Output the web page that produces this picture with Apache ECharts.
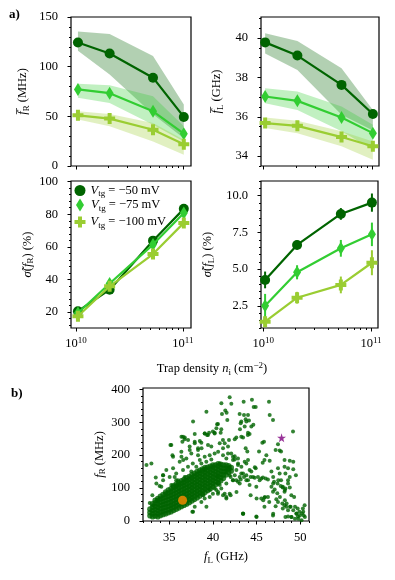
<!DOCTYPE html>
<html>
<head>
<meta charset="utf-8">
<script src="https://cdn.jsdelivr.net/npm/echarts@6/dist/echarts.min.js"></script>
<style>
  html, body { margin: 0; padding: 0; background: #fff; }
  #chart { width: 395px; height: 580px; }
</style>
</head>
<body>
<div id="chart"></div>
<script>
// ---- data ----
const trapDensity = [1.04e10, 2.06e10, 5.25e10, 1.02e11];
const vtgLabels = ["\u221250", "\u221275", "\u2212100"];
const colors = ["#006400", "#32cd32", "#9acd32"];

// mean f_R (MHz) and shaded band
const fRMean = [[124.4, 113.3, 88.9, 49.4], [77.1, 73.3, 55.1, 32.5], [51.0, 47.7, 36.5, 22.0]];
const fRLow = [[116, 92, 52, 28], [68.6, 63.5, 41.6, 24.7], [46.7, 39.9, 24.7, 11.2]];
const fRHigh = [[135.5, 132.8, 110.8, 62], [82.8, 81.4, 70.3, 39.9], [55, 52.4, 43.3, 26.4]];

// mean f_L (GHz) and shaded band
const fLMean = [[39.78, 39.11, 37.62, 36.14], [37.03, 36.81, 35.96, 35.17], [35.68, 35.54, 34.97, 34.5]];
const fLLow = [[39.22, 38.38, 36.1, 35.3], [36.69, 36.35, 35.26, 34.33], [35.43, 35.17, 34.5, 33.82]];
const fLHigh = [[40.24, 39.85, 38.47, 36.35], [37.45, 37.28, 36.52, 35.6], [35.96, 35.8, 35.26, 34.75]];

// relative spread (%)
const sigmaR = [[20.5, 33.7, 63.8, 83.3], [19.4, 37.5, 61.4, 80.8], [17.4, 35.8, 55.6, 74.7]];
const sigmaL = [[4.27, 6.65, 8.76, 9.53], [2.52, 4.79, 6.42, 7.37], [1.43, 3.06, 3.93, 5.44]];
const sigmaLErr = [[0.57, 0.3, 0.4, 0.62], [0.8, 0.48, 0.57, 0.8], [0.35, 0.4, 0.57, 0.85]];

// tick labels
const fRTicks = [0, 50, 100, 150];
const fLTicks = [34, 36, 38, 40];
const sigRTicks = [20, 40, 60, 80, 100];
const sigLTicks = [2.5, 5.0, 7.5, 10.0];
const decadeTicks = [10, 11];
const scatXTicks = [35, 40, 45, 50];
const scatYTicks = [0, 100, 200, 300, 400];

// panel b: dense core of the cloud, column by column [f_L, [f_R ...]]
const cloudColumns = [
  [32.8, [16, 26, 36]],
  [33.1, [13, 22, 32, 42, 52]],
  [33.4, [15, 25, 35, 45, 55, 63]],
  [33.7, [13, 22, 32, 42, 52, 62, 68]],
  [34.0, [17, 27, 37, 47, 57, 67, 75]],
  [34.3, [20, 30, 40, 50, 60, 70, 80]],
  [34.6, [22, 32, 42, 52, 62, 72, 82, 88]],
  [34.9, [25, 35, 45, 55, 65, 75, 85, 94]],
  [35.2, [28, 38, 48, 58, 68, 78, 88, 98]],
  [35.5, [32, 42, 52, 62, 72, 82, 92, 102, 107]],
  [35.8, [36, 46, 56, 66, 76, 86, 96, 106, 112]],
  [36.1, [40, 50, 60, 70, 80, 90, 100, 110, 117]],
  [36.4, [44, 54, 64, 74, 84, 94, 104, 114, 122]],
  [36.7, [48, 58, 68, 78, 88, 98, 108, 118, 126]],
  [37.0, [52, 62, 72, 82, 92, 102, 112, 122, 131]],
  [37.3, [56, 66, 76, 86, 96, 106, 116, 126, 135]],
  [37.6, [61, 71, 81, 91, 101, 111, 121, 131, 140]],
  [37.9, [66, 76, 86, 96, 106, 116, 126, 136, 145]],
  [38.2, [71, 81, 91, 101, 111, 121, 131, 141, 150]],
  [38.5, [76, 86, 96, 106, 116, 126, 136, 146, 154]],
  [38.8, [82, 92, 102, 112, 122, 132, 142, 152, 158]],
  [39.1, [87, 97, 107, 117, 127, 137, 147, 157, 162]],
  [39.4, [93, 103, 113, 123, 133, 143, 153, 163]],
  [39.7, [98, 108, 118, 128, 138, 148, 158, 166]],
  [40.0, [104, 114, 124, 134, 144, 154, 164, 170]],
  [40.3, [110, 120, 130, 140, 150, 160, 170]],
  [40.6, [116, 126, 136, 146, 156, 166, 174]],
  [40.9, [122, 132, 142, 152, 162, 172]],
  [41.2, [130, 140, 150, 160, 170]],
  [41.5, [140, 150, 160, 170]],
  [41.8, [148, 158, 168]],
  [42.1, [152, 162]]
];

// panel b: scattered points around the core
const cloudFringe = [
  [34.3,124],[35.05,134],[35.8,144],[36.58,155],[37.15,165],[37.7,175],[38.5,185],[39.06,195],
  [39.63,200],[40.2,205],[40.6,210],[41.16,200],[41.54,190],[41.73,205],[42.3,185],[42.88,175],
  [43.26,165],[38.1,165],[38.68,175],[39.25,180],[39.82,187],[37.53,150],[36.77,134],[36.0,124],
  [35.24,109],[40.78,175],[41.92,165],[42.69,155],[43.07,134],[42.3,124],[41.92,139],[41.54,114],[40.78,109]
];
const scatterLeft = [
  [39.26,332],[37.73,302],[35.14,231],[36.4,256],[36.78,254],[36.51,241],[37.16,246],[37.92,241],
  [38.5,243],[39.07,266],[39.33,261],[39.56,268],[40.0,272],[40.48,294],[38.3,216],[38.7,221],
  [37.35,216],[32.96,175],[32.4,170],[34.3,139],[33.46,132],[35.37,200],[36.4,195],[36.6,185],
  [35.63,134],[35.8,124],[33.9,106],[33.07,78],[32.77,55],[33.15,48],[38.9,78],[39.64,94],
  [37.73,28],[39.26,43],[40.48,136],
  [35.24,231],[36.58,256],[36.77,248],[37.92,264],[39.06,266],[39.44,261],[40.2,266],[43.45,254],
  [44.0,261],[38.68,238],[37.92,236],[37.34,226],[38.3,221],[39.44,231],[39.82,226],[40.78,236],
  [41.16,221],[41.73,226],[42.1,205],[42.5,197],[35.44,195],[36.39,210],[34.29,139],
  [34.67,155],[35.44,160],[36.96,190],[37.53,205],[38.3,200],[36.2,180],[33.53,114],[34.1,104],
  [43.45,144],[43.83,124],[44.2,109],[43.07,114],[42.7,88],[41.92,83],[41.16,78],[41.54,68],
  [40.2,99],[40.6,88],[40.0,83],[39.63,73],[39.06,68],[38.68,58],[37.92,43],[37.65,28],[43.45,22]
];
const scatterRight = [
  [41.92,376],[40.97,358],[42.11,356],[43.52,362],[44.47,368],[44.67,346],[44.9,346],[46.42,362],
  [41.42,336],[41.57,329],[41.65,307],[41.04,325],[40.58,295],[40.4,282],[40.2,268],[40.96,279],[40.89,268],
  [43.06,325],[43.56,322],[44.02,322],[43.75,309],[43.25,302],[43.83,302],[44.13,305],[43.18,297],
  [43.64,287],[44.4,287],[44.63,292],[43.1,279],[44.02,268],[44.2,264],[42.68,254],[43.25,256],
  [42.5,248],[41.84,246],[41.35,236],[41.15,246],[46.5,322],[46.88,307],[49.17,272],
  [45.85,241],[45.66,238],[47.45,233],[47.18,216],[47.64,214],[43.75,221],[43.94,211],[45.28,211],
  [46.12,200],[45.9,185],[45.7,177],[46.5,183],[47.8,211],[48.2,185],[48.8,183],[49.2,180],
  [48.2,165],[48.6,160],[49.2,157],[49.5,139],[48.3,144],[48.8,134],[47.8,124],[48.6,124],
  [47.45,160],[47.64,144],[46.7,150],[46.9,134],[46.04,129],[46.3,126],[44.8,163],[44.9,160],
  [44.02,185],[43.64,180],[43.83,175],[44.2,155],[44.4,150],[45.16,134],[45.54,129],[45.73,132],
  [45.35,124],[44.59,134],[44.78,131],[43.25,144],[43.56,134],[43.18,126],[43.83,139],[42.68,124],
  [42.87,119],[42.3,124],[42.03,134],[42.5,139],[44.32,134],[44.02,124],[47.0,119],[47.4,114],
  [47.76,106],[46.7,104],[47.07,96],[46.88,89],[47.37,84],[48.0,104],[48.3,99],[48.2,89],
  [48.6,114],[48.8,102],[46.3,73],[45.9,71],[47.26,66],[47.45,58],[47.18,45],[45.9,43],
  [47.95,53],[48.2,48],[48.4,43],[48.0,38],[48.6,33],[48.9,43],[48.98,78],[49.3,73],
  [49.4,43],[49.7,38],[49.9,28],[50.2,23],[50.4,17],[49.55,23],[49.74,14],[48.98,12],
  [48.6,14],[48.3,12],[50.5,48],[50.3,38],[44.97,14],[43.44,23],[46.88,17],[44.32,78],
  [45.54,68],[44.97,104],[42.03,78],[41.35,83],[41.54,73],[40.58,114],[40.96,99],[40.4,94],
  [40.58,83],[42.87,170],[42.3,195],[42.5,187],[42.87,190],[41.92,160],[41.54,155],
  [48.24,63],[48.44,53],[48.82,43],[49.2,33],[49.58,22],[49.96,17],[50.34,28],[50.53,12],
  [49.77,7],[50.15,2],[49.0,12],[49.39,7],[45.0,68],[45.76,63],[45.95,73],[46.9,22],
  [45.0,12],[43.47,22],[46.45,58],[46.9,114],[47.48,124],[47.98,102],[47.67,73],[48.24,94]
];
const orangePoint = [[36.53, 63]];
const starPoint = [[47.86, 253]];

// ---- styling ----
const SERIF = "Liberation Serif";
const FS = 12.5;
const rich = {
  n: { fontFamily: SERIF, fontSize: FS, color: "#000", lineHeight: 16 },
  it: { fontFamily: SERIF, fontSize: FS, fontStyle: "italic", color: "#000", lineHeight: 16 },
  sub: { fontFamily: SERIF, fontSize: 9, color: "#000", lineHeight: 8, verticalAlign: "bottom" },
  sup: { fontFamily: SERIF, fontSize: 9, color: "#000", lineHeight: 9, verticalAlign: "top" },
  b: { fontFamily: SERIF, fontSize: FS, color: "#000", lineHeight: 16 },
  s: { fontFamily: SERIF, fontSize: 9, color: "#000", lineHeight: 9, verticalAlign: "top" }
};
const plusPath = "path://M3.5,0H7.5V3.5H11V7.5H7.5V11H3.5V7.5H0V3.5H3.5Z";
const starPath = "path://M50,0L61,35L98,35L68,57L79,91L50,70L21,91L32,57L2,35L39,35Z";
const markers = ["circle", "diamond", plusPath];
const markerSizes = [10, [8, 13], 11];

function steps(a, b, st, skip) {
  const out = [];
  for (let v = a; v <= b + 1e-9; v += st) {
    const r = Math.round(v * 1000) / 1000;
    if (!skip.some(s => Math.abs(s - r) < 1e-6)) out.push(r);
  }
  return out;
}
const decadeMinor = [2, 3, 4, 5, 6, 7, 8, 9].map(k => 10 + Math.log10(k));

const grids = [
  { left: 71, top: 17, width: 120, height: 149 },
  { left: 261, top: 17, width: 118, height: 149 },
  { left: 71, top: 181, width: 120, height: 147 },
  { left: 261, top: 181, width: 117, height: 147 },
  { left: 143, top: 388, width: 166, height: 133 }
].map(g => Object.assign({ show: true, borderColor: "#000", borderWidth: 1.2, backgroundColor: "transparent" }, g));

const logExtent = [[9.952, 11.076], [9.979, 11.065], [9.952, 11.076], [9.979, 11.065]];

function tickAxis(dim, grid, min, max, values, len, label) {
  return {
    type: "value", gridIndex: grid, min: min, max: max,
    position: dim === "x" ? "bottom" : "left",
    axisLine: { show: false, onZero: false },
    splitLine: { show: false },
    axisTick: { show: true, inside: false, length: len, customValues: values, lineStyle: { color: "#000", width: 1 } },
    axisLabel: label
      ? Object.assign({ show: true, customValues: values, color: "#000", fontFamily: SERIF, fontSize: FS, margin: 12, rich: rich }, label)
      : { show: false }
  };
}

const xAxes = [];
const yAxes = [];
const logIdx = [];
for (let g = 0; g < 4; g++) {
  const [e0, e1] = logExtent[g];
  logIdx.push(xAxes.length);
  xAxes.push({ type: "log", logBase: 10, gridIndex: g, min: Math.pow(10, e0), max: Math.pow(10, e1), show: false, position: "bottom", axisLine: { onZero: false } });
  xAxes.push(tickAxis("x", g, e0, e1, decadeTicks, 3.5, g >= 2 ? { formatter: v => "{b|10}{s|" + Math.round(v) + "}", margin: 8 } : null));
  xAxes.push(tickAxis("x", g, e0, e1, decadeMinor, 2, null));
}
const scatX = xAxes.length;
xAxes.push(Object.assign(tickAxis("x", 4, 32, 51, scatXTicks, 3.5, { margin: 10 }), {
  name: "{it|f}{sub|L}{n| (GHz)}", nameLocation: "middle", nameGap: 28, nameTextStyle: { rich: rich }
}));
xAxes.push(tickAxis("x", 4, 32, 51, steps(32, 51, 1, scatXTicks), 2, null));

const yDefs = [
  { min: 0, max: 150, ticks: fRTicks, minor: steps(0, 150, 10, fRTicks), fmt: v => String(v), name: "{it|f\u0305}{sub|R}{n| (MHz)}", gap: 40 },
  { min: 33.5, max: 41.07, ticks: fLTicks, minor: steps(33.5, 41, 0.5, fLTicks), fmt: v => String(v), name: "{it|f\u0305}{sub|L}{n| (GHz)}", gap: 36 },
  { min: 10.2, max: 100.4, ticks: sigRTicks, minor: steps(12, 100, 4, sigRTicks), fmt: v => String(v), name: "{it|\u03c3\u0303}{n|(}{it|f}{sub|R}{n|) (%)}", gap: 35 },
  { min: 1.0, max: 11.0, ticks: sigLTicks, minor: steps(1, 11, 0.5, sigLTicks), fmt: v => v.toFixed(1), name: "{it|\u03c3\u0303}{n|(}{it|f}{sub|L}{n|) (%)}", gap: 45 },
  { min: 0, max: 404, ticks: scatYTicks, minor: steps(0, 404, 20, scatYTicks), fmt: v => String(v), name: "{it|f}{sub|R}{n| (MHz)}", gap: 30 }
];
const yIdx = [];
yDefs.forEach((d, g) => {
  yIdx.push(yAxes.length);
  yAxes.push(Object.assign(tickAxis("y", g, d.min, d.max, d.ticks, 3.5, { formatter: d.fmt, margin: 13 }), {
    name: d.name, nameLocation: "middle", nameGap: d.gap, nameRotate: 90, nameTextStyle: { rich: rich }
  }));
  yAxes.push(tickAxis("y", g, d.min, d.max, d.minor, 2, null));
});

const pairs = vals => trapDensity.map((x, i) => [x, vals[i]]);
const series = [];

// shaded band between low and high, drawn as one polygon through the axes
function bandSeries(g, low, high, color) {
  return {
    type: "custom", xAxisIndex: logIdx[g], yAxisIndex: yIdx[g], z: 1, silent: true,
    data: trapDensity.map((x, i) => [x, low[i], high[i]]),
    encode: { x: 0, y: [1, 2] },
    renderItem: (params, api) => {
      if (params.dataIndex !== 0) return null;
      const upper = trapDensity.map((x, i) => api.coord([x, high[i]]));
      const lower = trapDensity.map((x, i) => api.coord([x, low[i]])).reverse();
      return { type: "polygon", shape: { points: upper.concat(lower) }, style: { fill: color, opacity: 0.3 } };
    }
  };
}

// panels a (top): shaded bands + mean lines
[[fRMean, fRLow, fRHigh], [fLMean, fLLow, fLHigh]].forEach(([mean, low, high], g) => {
  for (let k = 0; k < 3; k++) series.push(bandSeries(g, low[k], high[k], colors[k]));
  for (let k = 0; k < 3; k++) {
    series.push({
      type: "line", xAxisIndex: logIdx[g], yAxisIndex: yIdx[g], data: pairs(mean[k]),
      symbol: markers[k], symbolSize: markerSizes[k], itemStyle: { color: colors[k] },
      lineStyle: { color: colors[k], width: 2.2 }, z: 3 + k
    });
  }
});

// panel a bottom-left
const legendNames = ["Vtg50", "Vtg75", "Vtg100"];
for (let k = 0; k < 3; k++) {
  series.push({
    type: "line", name: legendNames[k], xAxisIndex: logIdx[2], yAxisIndex: yIdx[2], data: pairs(sigmaR[k]),
    symbol: markers[k], symbolSize: markerSizes[k], itemStyle: { color: colors[k] },
    lineStyle: { color: colors[k], width: 2.2 }, z: 3 + k
  });
}

// panel a bottom-right with error bars
for (let k = 0; k < 3; k++) {
  series.push({
    type: "custom", xAxisIndex: logIdx[3], yAxisIndex: yIdx[3], z: 2 + k,
    data: trapDensity.map((x, i) => [x, sigmaL[k][i], sigmaLErr[k][i]]),
    encode: { x: 0, y: 1 },
    renderItem: (params, api) => {
      const x = api.value(0), y = api.value(1), e = api.value(2);
      const p0 = api.coord([x, y - e]);
      const p1 = api.coord([x, y + e]);
      return { type: "line", shape: { x1: p0[0], y1: p0[1], x2: p1[0], y2: p1[1] }, style: { stroke: colors[k], lineWidth: 2 } };
    },
    silent: true
  });
  series.push({
    type: "line", xAxisIndex: logIdx[3], yAxisIndex: yIdx[3], data: pairs(sigmaL[k]),
    symbol: markers[k], symbolSize: markerSizes[k], itemStyle: { color: colors[k] },
    lineStyle: { color: colors[k], width: 2.2 }, z: 3 + k
  });
}

// panel b
const cloudCore = [];
cloudColumns.forEach(([fl, frs]) => frs.forEach(fr => cloudCore.push([fl, fr])));
series.push({
  type: "scatter", xAxisIndex: scatX, yAxisIndex: yIdx[4], data: cloudCore,
  symbol: "circle", symbolSize: 5.6, itemStyle: { color: "#006400" }, z: 2
});
series.push({
  type: "scatter", xAxisIndex: scatX, yAxisIndex: yIdx[4],
  data: cloudFringe.concat(scatterLeft, scatterRight),
  symbol: "circle", symbolSize: 4, itemStyle: { color: "#006400" }, z: 2
});
series.push({
  type: "scatter", xAxisIndex: scatX, yAxisIndex: yIdx[4], data: orangePoint,
  symbol: "circle", symbolSize: 9, itemStyle: { color: "#ff8c00" }, z: 4
});
series.push({
  type: "scatter", xAxisIndex: scatX, yAxisIndex: yIdx[4], data: starPoint,
  symbol: starPath, symbolSize: 9, itemStyle: { color: "#800080" }, z: 4
});

const legendPos = [
  { left: 74.5, top: 184, w: 11, h: 11, pad: 0 },
  { left: 76, top: 198.5, w: 8, h: 13, pad: 2 },
  { left: 74.5, top: 215.5, w: 11, h: 11, pad: 0 }
];
const legends = legendPos.map((p, k) => ({
  data: [{ name: legendNames[k], icon: markers[k] }],
  left: p.left, top: p.top, itemWidth: p.w, itemHeight: p.h, itemGap: 0,
  selectedMode: false, padding: 0,
  formatter: () => "{it|V}{sub|tg}{n| = " + vtgLabels[k] + " mV}",
  textStyle: { rich: rich, padding: [0, 0, 0, p.pad] }
}));

const chart = echarts.init(document.getElementById("chart"), null, { renderer: "canvas" });
chart.setOption({
  animation: false,
  backgroundColor: "#fff",
  grid: grids,
  xAxis: xAxes,
  yAxis: yAxes,
  legend: legends,
  series: series,
  graphic: [
    { type: "text", x: 9, y: 8, style: { text: "a)", font: "bold 13px 'Liberation Serif'", fill: "#000" } },
    { type: "text", x: 11, y: 387, style: { text: "b)", font: "bold 13px 'Liberation Serif'", fill: "#000" } },
    {
      type: "text", x: 212, y: 369,
      style: { text: "{n|Trap density }{it|n}{sub|i}{n| (cm}{sup|\u22122}{n|)}", rich: rich, align: "center", verticalAlign: "middle" }
    }
  ]
});
</script>
</body>
</html>
